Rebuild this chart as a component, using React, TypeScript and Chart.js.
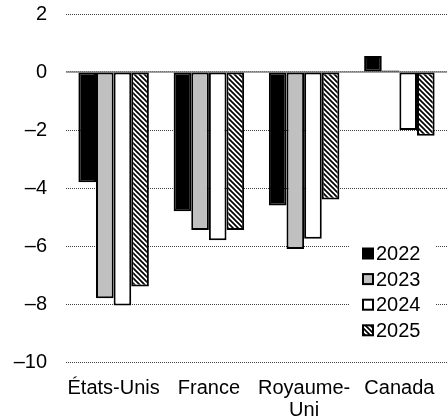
import React, { useEffect, useRef } from 'react';
import { Chart, registerables } from 'chart.js';
Chart.register(...registerables);

const categories: (string | string[])[] = ['États-Unis', 'France', ['Royaume-', 'Uni'], 'Canada'];
const years = ['2022', '2023', '2024', '2025'];
const v2022 = [-3.8, -4.8, -4.6, 0.55];
const v2023 = [-7.8, -5.45, -6.1, 0.05];
const v2024 = [-8.05, -5.8, -5.75, -2.0];
const v2025 = [-7.4, -5.45, -4.4, -2.2];
const yMin = -10;
const yMax = 2;
const yStep = 2;

const FONT = "'Liberation Sans', Arial, sans-serif";

function makeHatch(): CanvasPattern | string {
  const s = 5;
  const c = document.createElement('canvas');
  c.width = s;
  c.height = s;
  const g = c.getContext('2d');
  if (!g) return '#fff';
  g.fillStyle = '#fff';
  g.fillRect(0, 0, s, s);
  g.strokeStyle = '#000';
  g.lineWidth = 1.7;
  for (const o of [-s, 0, s]) {
    g.beginPath();
    g.moveTo(o - 1, -1);
    g.lineTo(o + s + 1, s + 1);
    g.stroke();
  }
  return g.createPattern(c, 'repeat') || '#fff';
}

export default function App() {
  const ref = useRef<HTMLCanvasElement | null>(null);
  useEffect(() => {
    if (!ref.current) return;
    const hatch = makeHatch();
    const fills: any[] = ['#000000', '#c0c0c0', '#ffffff', hatch];
    const series = [v2022, v2023, v2024, v2025];

    const zeroLine = {
      id: 'zeroLine',
      beforeDatasetsDraw(chart: any) {
        const { ctx, chartArea, scales } = chart;
        const y = scales.y.getPixelForValue(0);
        ctx.save();
        ctx.strokeStyle = '#808080';
        ctx.lineWidth = 1.5;
        ctx.beginPath();
        ctx.moveTo(chartArea.left, y);
        ctx.lineTo(chartArea.right, y);
        ctx.stroke();
        ctx.restore();
      },
    };

    const legendPlugin = {
      id: 'boxLegend',
      afterDraw(chart: any) {
        const { ctx, chartArea } = chart;
        const x0 = 350;
        const y0 = chartArea.bottom - 122;
        ctx.save();
        ctx.fillStyle = '#fff';
        ctx.fillRect(x0, y0, 85, 103);
        ctx.font = `20px ${FONT}`;
        ctx.textBaseline = 'middle';
        ctx.textAlign = 'left';
        years.forEach((yr, i) => {
          const cy = y0 + 13.5 + i * 25.6;
          const bx = x0 + 13;
          ctx.fillStyle = fills[i];
          ctx.fillRect(bx, cy - 5, 10, 10);
          ctx.strokeStyle = '#000';
          ctx.lineWidth = 2;
          ctx.strokeRect(bx, cy - 5, 10, 10);
          ctx.fillStyle = '#000';
          ctx.fillText(yr, bx + 13, cy + 1);
        });
        ctx.restore();
      },
    };

    const chart = new Chart(ref.current, {
      type: 'bar',
      data: {
        labels: categories as any,
        datasets: series.map((d, i) => ({
          label: years[i],
          data: d,
          backgroundColor: fills[i],
          borderColor: '#000',
          borderWidth: 2,
          borderSkipped: false,
          categoryPercentage: 0.74,
          barPercentage: 1,
        })),
      },
      options: {
        responsive: false,
        animation: false,
        devicePixelRatio: 1,
        layout: { padding: { top: 14, left: 0, right: -4, bottom: 0 } },
        plugins: {
          legend: { display: false },
          tooltip: { enabled: false },
        },
        scales: {
          x: {
            grid: { display: false, drawTicks: false },
            border: { display: false },
            ticks: {
              color: '#000',
              font: { family: FONT, size: 20, lineHeight: 1.1 },
              padding: 15,
              maxRotation: 0,
              autoSkip: false,
            },
            afterFit(scale: any) {
              scale.height = 58;
              scale.paddingLeft = 0;
              scale.paddingRight = 0;
            },
          },
          y: {
            min: yMin,
            max: yMax,
            grid: { color: '#404040', lineWidth: 1, drawTicks: false },
            border: { display: false, dash: [1, 1] },
            ticks: {
              stepSize: yStep,
              color: '#000',
              font: { family: FONT, size: 20 },
              padding: 19,
              callback: (v: any) => String(v).replace('-', '\u2013'),
            },
            afterFit(scale: any) {
              scale.width = 66;
              scale.paddingTop = 0;
              scale.paddingBottom = 0;
            },
          },
        },
      },
      plugins: [zeroLine, legendPlugin],
    });
    return () => chart.destroy();
  }, []);
  return (
    <canvas
      ref={ref}
      width={447}
      height={420}
      style={{ position: 'absolute', left: 0, top: 0, width: 447, height: 420 }}
    />
  );
}
